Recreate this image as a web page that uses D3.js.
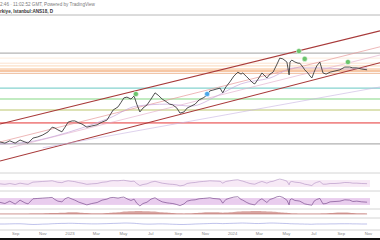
<!DOCTYPE html>
<html><head><meta charset="utf-8">
<script src="https://cdn.jsdelivr.net/npm/d3@7"></script>
<style>body{margin:0;background:#fff}svg{display:block;font-family:"Liberation Sans",Arial,sans-serif}</style>
</head><body>
<svg id="c" width="380" height="240"></svg>
<script>
// ---------- DATA ----------
const priceDates = ["2022-07-29","2022-08-09","2022-08-20","2022-09-01","2022-09-12","2022-09-23","2022-09-30","2022-10-11","2022-10-22","2022-11-02","2022-11-14","2022-11-23","2022-11-29","2022-12-06","2022-12-15","2022-12-22","2022-12-29","2023-01-07","2023-01-13","2023-01-22","2023-01-29","2023-02-09","2023-02-20","2023-03-04","2023-03-15","2023-03-26","2023-04-02","2023-04-09","2023-04-20","2023-04-27","2023-05-03","2023-05-10","2023-05-19","2023-05-26","2023-06-01","2023-06-08","2023-06-15","2023-06-24","2023-07-03","2023-07-12","2023-07-19","2023-07-28","2023-08-08","2023-08-14","2023-08-21","2023-08-30","2023-09-06","2023-09-15","2023-09-22","2023-10-01","2023-10-10","2023-10-19","2023-10-28","2023-11-06","2023-11-12","2023-11-19","2023-11-28","2023-12-05","2023-12-11","2023-12-18","2023-12-27","2024-01-05","2024-01-14","2024-01-21","2024-01-25","2024-02-03","2024-02-10","2024-02-17","2024-02-21","2024-03-01","2024-03-08","2024-03-15","2024-03-19","2024-03-26","2024-04-02","2024-04-11","2024-04-17","2024-04-24","2024-05-03","2024-05-08","2024-05-10","2024-05-14","2024-05-21","2024-05-28","2024-06-01","2024-06-08","2024-06-12","2024-06-19","2024-06-24","2024-06-28","2024-07-03","2024-07-09","2024-07-16","2024-07-23","2024-07-30","2024-08-08","2024-08-19","2024-08-30","2024-09-10","2024-09-21","2024-09-28","2024-10-07","2024-10-18","2024-10-30"];
const priceValues = [17.7,17.4,18.0,17.4,18.2,17.7,17.4,18.7,19.0,19.5,20.3,21.5,21.3,20.8,20.3,21.5,22.8,23.1,23.1,22.6,22.3,21.5,21.8,22.1,22.8,23.3,24.6,25.9,26.7,27.9,29.0,29.2,28.7,29.5,27.4,25.4,26.4,27.2,28.7,30.3,29.7,28.7,27.9,27.4,27.2,26.4,25.1,25.4,26.4,26.9,27.4,28.5,29.0,29.7,30.8,31.0,31.3,31.5,30.3,31.8,33.1,34.6,35.6,35.1,35.4,34.4,33.6,32.8,32.6,34.1,35.4,34.6,34.1,35.1,35.6,37.7,39.2,39.0,38.2,34.9,38.2,38.7,38.2,37.9,37.9,36.9,36.2,35.4,34.6,34.1,35.6,37.2,38.2,35.4,35.1,35.6,35.9,36.2,36.9,36.9,36.7,36.7,36.4,36.2];

const maDates = ["2022-07-29","2022-09-30","2022-11-29","2023-01-29","2023-04-02","2023-06-01","2023-08-08","2023-10-01","2023-11-28","2024-01-21","2024-03-26","2024-05-21","2024-07-16","2024-09-10","2024-10-30"];
const maValues = [17.2,17.7,19.2,21.3,23.9,26.9,27.4,26.9,29.5,32.6,34.1,36.7,36.7,36.4,36.7];

const levelPrices = [40.5,39.2,37.9,37.2,36.4,35.9,35.3,31.5,28.7,25.9,22.6,17.2];
const levelColors = ["#b4b4b4","#fde8d4","#fbdcc2","#f9cfa8","#f5b07a","#ee8f4c","#e9a77c","#86d3cf","#84d884","#bcc66c","#f08a8a","#b0b0b0"];
const levelWidths = [1.2,0.8,0.8,0.8,0.9,1.1,0.8,1.1,1.1,1.1,1.6,1.1];

const trendStart = ["2022-07-29","2022-07-29","2022-07-29","2022-08-20","2022-11-02"];
const trendEnd   = ["2024-11-28","2024-11-28","2024-11-28","2024-11-28","2024-11-28"];
const trendFrom  = [22.3,12.8,17.7,16.2,16.2];
const trendTo    = [46.2,38.0,42.1,40.0,31.8];
const trendColors= ["#a83a3a","#a83a3a","#e79a9a","#e0a8c8","#c8b4e0"];
const trendWidths= [1.1,1.1,0.7,0.6,0.6];

const markerDates = ["2023-05-30","2024-05-30","2024-06-12","2024-09-17","2023-11-06"];
const markerPrices = [30.0,41.0,39.0,38.2,30.0];
const markerColors = ["#6cc46c","#6cc46c","#6cc46c","#6cc46c","#4ba6e8"];

const rsiValues = [48,45,50,44,52,47,45,58,60,62,64,66,62,57,55,62,66,63,61,55,52,45,48,50,57,60,65,67,66,68,69,66,62,64,50,38,44,48,58,63,58,52,48,46,45,42,36,40,50,54,56,60,62,64,66,65,64,63,52,62,66,70,72,66,64,56,50,47,46,56,62,56,52,60,63,72,76,72,64,42,58,62,58,56,55,50,46,43,40,38,50,57,62,46,46,50,50,52,56,55,52,52,50,49];
const stochValues = [45,38,52,35,58,42,36,66,68,70,72,74,62,52,48,66,74,64,58,46,40,30,38,44,58,64,72,74,70,74,76,66,56,64,40,24,38,46,64,72,60,48,42,40,38,32,26,36,52,58,60,66,68,70,72,68,66,64,40,62,70,76,78,62,58,44,36,32,30,56,66,52,44,62,68,78,80,74,58,30,60,66,56,54,52,42,36,32,30,28,52,62,68,36,38,48,50,52,60,58,50,52,48,46];
const histValues = [0.1,0.1,0.05,0.05,0.1,0.1,0.1,0.15,0.2,0.2,0.25,0.3,0.3,0.35,0.4,0.45,0.55,0.6,0.6,0.5,0.4,0.3,0.2,0.15,0.2,0.3,0.4,0.5,0.6,0.7,0.8,0.85,0.9,0.95,1.0,1.0,0.95,0.9,0.85,0.8,0.7,0.6,0.5,0.4,0.3,0.2,0.15,0.1,0.15,0.2,0.3,0.4,0.5,0.55,0.6,0.6,0.55,0.5,0.45,0.5,0.6,0.7,0.8,0.85,0.9,0.9,0.95,1.0,1.0,1.0,0.95,0.9,0.85,0.8,0.75,0.7,0.6,0.5,0.4,0.3,0.25,0.2,0.15,0.1,0.1,0.1,0.1,0.1,0.1,0.1,0.1,0.1,0.1,0.15,0.2,0.3,0.4,0.5,0.5,0.4,0.3,0.2,0.15,0.1];
const lowerValues = [50,50,51,52,52,50,48,46,47,49,50,52,53,54,55,55,56,56,55,54,53,52,51,51,52,53,54,55,56,57,58,58,57,56,54,52,50,49,49,50,51,51,50,49,48,47,46,46,47,48,50,51,52,53,54,55,55,54,53,54,55,56,57,58,58,57,56,55,54,54,55,56,57,58,58,57,56,55,54,53,52,52,51,51,50,50,49,49,48,48,49,50,50,50,50,51,51,52,52,52,51,51,50,50];

const tickDates = ["2022-09-01","2022-11-01","2023-01-01","2023-03-01","2023-05-01","2023-07-01","2023-09-01","2023-11-01","2024-01-01","2024-03-01","2024-05-01","2024-07-01","2024-09-01","2024-11-01"];
const tickLabels = ["Sep","Nov","2023","Mar","May","Jul","Sep","Nov","2024","Mar","May","Jul","Sep","Nov"];

const headerLine1 = "2:46 · 11:02:52 GMT, Powered by TradingView";
const headerLine2 = "rkiye, Istanbul:ANS18, D";

// ---------- DRAW ----------
const P = d3.utcParse("%Y-%m-%d");
const svg = d3.select("#c");
const x = d3.scaleUtc().domain([P("2022-07-29"), P("2024-11-28")]).range([0,380]);
const y = d3.scaleLinear().domain([10,50]).range([172,16]);

svg.append("rect").attr("width",380).attr("height",240).attr("fill","#fff");

// header
svg.append("text").attr("x",0).attr("y",6).attr("font-size",4.6).attr("fill","#7a7a7a").text(headerLine1);
svg.append("text").attr("x",0).attr("y",12.5).attr("font-size",4.6).attr("font-weight","bold").attr("fill","#333").text(headerLine2);
svg.append("line").attr("x1",0).attr("x2",380).attr("y1",15).attr("y2",15).attr("stroke","#b8b8b8").attr("stroke-width",1);

svg.append("clipPath").attr("id","mainclip").append("rect").attr("x",0).attr("y",16).attr("width",380).attr("height",156);
const main = svg.append("g").attr("clip-path","url(#mainclip)");

// levels
main.selectAll("line.level").data(levelPrices).join("line").attr("class","level")
  .attr("x1",0).attr("x2",380).attr("y1",d=>y(d)).attr("y2",d=>y(d))
  .attr("stroke",(d,i)=>levelColors[i]).attr("stroke-width",(d,i)=>levelWidths[i]);

// trend lines
main.selectAll("line.trend").data(trendFrom).join("line").attr("class","trend")
  .attr("x1",(d,i)=>x(P(trendStart[i]))).attr("x2",(d,i)=>x(P(trendEnd[i])))
  .attr("y1",d=>y(d)).attr("y2",(d,i)=>y(trendTo[i]))
  .attr("stroke",(d,i)=>trendColors[i]).attr("stroke-width",(d,i)=>trendWidths[i]);

// moving average
main.append("path").datum(maValues).attr("fill","none").attr("stroke","#c7a6da").attr("stroke-width",0.7)
  .attr("d",d3.line().x((d,i)=>x(P(maDates[i]))).y(d=>y(d)).curve(d3.curveMonotoneX));

// price
main.append("path").datum(priceValues).attr("fill","none").attr("stroke","#3d3d3d").attr("stroke-width",0.9)
  .attr("d",d3.line().x((d,i)=>x(P(priceDates[i]))).y(d=>y(d)));

// markers
main.selectAll("circle.mk").data(markerPrices).join("circle").attr("class","mk")
  .attr("cx",(d,i)=>x(P(markerDates[i]))).attr("cy",d=>y(d)).attr("r",2.6)
  .attr("fill",(d,i)=>markerColors[i]).attr("stroke","#fff").attr("stroke-width",0.5);

// pane separators
[144.5,173,191,209,218,230].forEach(v=>{});
[173,191,209,218,230].forEach(v=>svg.append("line").attr("x1",0).attr("x2",380).attr("y1",v).attr("y2",v).attr("stroke","#c9c9c9").attr("stroke-width",0.8));

// pane 1
const y1 = d3.scaleLinear().domain([0,100]).range([192,175]);
svg.append("rect").attr("x",0).attr("width",370).attr("y",y1(70)).attr("height",y1(30)-y1(70)).attr("fill","#f7e9f6");
svg.append("path").datum(rsiValues).attr("fill","none").attr("stroke","#b99bc9").attr("stroke-width",0.7)
  .attr("d",d3.line().x((d,i)=>x(P(priceDates[i]))).y(d=>y1(d)));

// pane 2
const y2 = d3.scaleLinear().domain([0,100]).range([210,193]);
svg.append("rect").attr("x",0).attr("width",370).attr("y",y2(70)).attr("height",y2(30)-y2(70)).attr("fill","#e9cdee");
svg.append("path").datum(stochValues).attr("fill","none").attr("stroke","#7d4f90").attr("stroke-width",0.7)
  .attr("d",d3.line().x((d,i)=>x(P(priceDates[i]))).y(d=>y2(d)));

// pane 3
const y3 = d3.scaleLinear().domain([0,1]).range([214,211]);
svg.append("path").datum(histValues).attr("fill","#d8a4a0").attr("stroke","none")
  .attr("d",d3.area().x((d,i)=>x(P(priceDates[i]))).y0(y3(0)).y1(d=>y3(d)).curve(d3.curveMonotoneX));
svg.append("line").attr("x1",0).attr("x2",x(P(priceDates[priceDates.length-1]))).attr("y1",y3(0)).attr("y2",y3(0)).attr("stroke","#b86a66").attr("stroke-width",0.6);

// pane 4
const y4 = d3.scaleLinear().domain([0,100]).range([230,218]);
svg.append("path").datum(lowerValues).attr("fill","none").attr("stroke","#a4a7e2").attr("stroke-width",0.7)
  .attr("d",d3.line().x((d,i)=>x(P(priceDates[i]))).y(d=>y4(d)));

// x axis
const ax = svg.append("g").attr("transform","translate(0,232)")
  .call(d3.axisBottom(x).tickValues(tickDates.map(P)).tickFormat((d,i)=>tickLabels[i]).tickSize(0).tickPadding(0));
ax.select(".domain").remove();
ax.selectAll("text").attr("font-size",4.2).attr("fill","#888").attr("font-family","Liberation Sans, Arial, sans-serif").attr("dy","0.75em");

// bottom strip
svg.append("rect").attr("x",0).attr("y",238).attr("width",380).attr("height",2).attr("fill","#111");
</script>
</body></html>
